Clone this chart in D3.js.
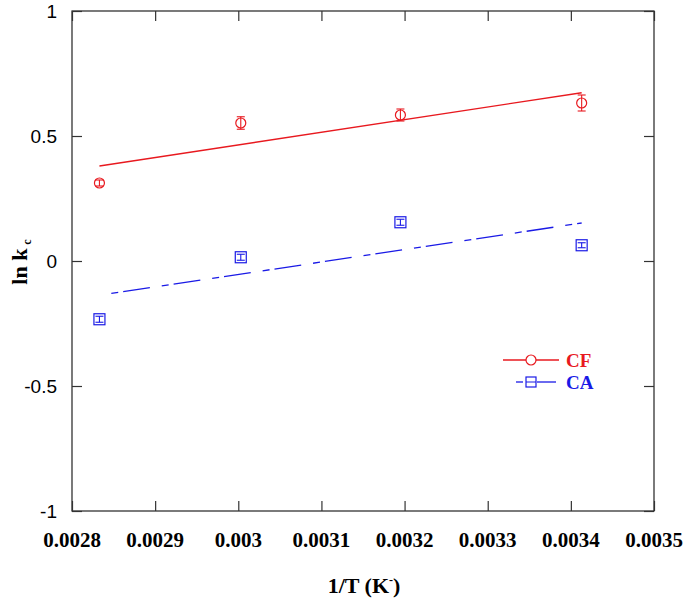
<!DOCTYPE html>
<html>
<head>
<meta charset="utf-8">
<script src="https://cdn.jsdelivr.net/npm/d3@7"></script>
<style>
  body { margin: 0; background: #fff; }
  svg { display: block; }
</style>
</head>
<body>
<script>
// ---- data ----
const invT = [0.002833, 0.003003, 0.003195, 0.003413];
const cfValues = [0.312, 0.552, 0.584, 0.632];
const cfErrors = [0.012, 0.025, 0.024, 0.032];
const caValues = [-0.233, 0.015, 0.155, 0.063];
const caErrors = [0.012, 0.012, 0.012, 0.010];
const cfFit = [[0.002833, 0.380], [0.003413, 0.673]];
const caFit = [[0.002833, -0.137], [0.003413, 0.152]];
const xTicks = [0.0028, 0.0029, 0.003, 0.0031, 0.0032, 0.0033, 0.0034, 0.0035];
const xTickLabels = ["0.0028", "0.0029", "0.003", "0.0031", "0.0032", "0.0033", "0.0034", "0.0035"];
const yTicks = [-1, -0.5, 0, 0.5, 1];
const yTickLabels = ["-1", "-0.5", "0", "0.5", "1"];

(function () {
const W = 685, H = 601;
const pL = 72, pR = 654, pT = 11, pB = 511;
const red = "#e8191f", blue = "#1a1ae6";

const svg = d3.select("body").append("svg").attr("width", W).attr("height", H);
const x = d3.scaleLinear().domain([0.0028, 0.0035]).range([pL, pR]);
const y = d3.scaleLinear().domain([-1, 1]).range([pB, pT]);

// frame
svg.append("rect").attr("x", pL).attr("y", pT).attr("width", pR - pL).attr("height", pB - pT)
  .attr("fill", "none").attr("stroke", "#222").attr("stroke-width", 1.2);

// axes (ticks inward, all four sides)
const tl = 10;
const gB = svg.append("g").attr("transform", `translate(0,${pB})`)
  .call(d3.axisTop(x).tickValues(xTicks).tickSize(tl).tickFormat(""));
const gT = svg.append("g").attr("transform", `translate(0,${pT})`)
  .call(d3.axisBottom(x).tickValues(xTicks).tickSize(tl).tickFormat(""));
const gL = svg.append("g").attr("transform", `translate(${pL},0)`)
  .call(d3.axisRight(y).tickValues(yTicks).tickSize(tl).tickFormat(""));
const gR = svg.append("g").attr("transform", `translate(${pR},0)`)
  .call(d3.axisLeft(y).tickValues(yTicks).tickSize(tl).tickFormat(""));
[gB, gT, gL, gR].forEach(g => {
  g.select(".domain").remove();
  g.selectAll("line").attr("stroke", "#333").attr("stroke-width", 1.2);
});

// tick labels
svg.append("g").selectAll("text").data(xTicks).join("text")
  .attr("x", d => x(d)).attr("y", 547)
  .attr("text-anchor", "middle")
  .attr("font-family", "Liberation Serif, Times New Roman, serif")
  .attr("font-weight", "bold").attr("font-size", 21)
  .text((d, i) => xTickLabels[i]);
svg.append("g").selectAll("text").data(yTicks).join("text")
  .attr("x", 57).attr("y", d => y(d)).attr("dy", "0.35em")
  .attr("text-anchor", "end")
  .attr("font-family", "Liberation Sans, Arial, sans-serif")
  .attr("font-size", 19)
  .text((d, i) => yTickLabels[i]);

// axis titles
const xt = svg.append("text").attr("x", 364).attr("y", 593).attr("text-anchor", "middle")
  .attr("font-family", "Liberation Serif, Times New Roman, serif").attr("font-weight", "bold").attr("font-size", 22);
xt.append("tspan").text("1/T (K");
xt.append("tspan").attr("font-size", 12).attr("dy", -9).text("-");
xt.append("tspan").attr("dy", 9).text(")");

const yt = svg.append("text").attr("transform", `translate(27,262) rotate(-90)`).attr("text-anchor", "middle")
  .attr("font-family", "Liberation Serif, Times New Roman, serif").attr("font-weight", "bold").attr("font-size", 22);
yt.append("tspan").text("ln k");
yt.append("tspan").attr("font-size", 12).attr("dx", 4).attr("dy", 4).text("c");

// fit lines
const line = d3.line().x(d => x(d[0])).y(d => y(d[1]));
svg.append("path").datum(cfFit).attr("d", line).attr("fill", "none")
  .attr("stroke", red).attr("stroke-width", 1.3);
svg.append("path").datum(caFit).attr("d", line).attr("fill", "none")
  .attr("stroke", blue).attr("stroke-width", 1.3)
  .attr("stroke-dasharray", "7,5,27,12").attr("stroke-dashoffset", 39);

// error bars + markers
function errBars(vals, errs, color) {
  const g = svg.append("g").attr("stroke", color).attr("stroke-width", 1.1);
  invT.forEach((t, i) => {
    const cx = x(t), y1 = y(vals[i] + errs[i]), y2 = y(vals[i] - errs[i]);
    g.append("line").attr("x1", cx).attr("x2", cx).attr("y1", y1).attr("y2", y2);
    g.append("line").attr("x1", cx - 4).attr("x2", cx + 4).attr("y1", y1).attr("y2", y1);
    g.append("line").attr("x1", cx - 4).attr("x2", cx + 4).attr("y1", y2).attr("y2", y2);
  });
}
errBars(cfValues, cfErrors, red);
errBars(caValues, caErrors, blue);

svg.append("g").selectAll("circle").data(cfValues).join("circle")
  .attr("cx", (d, i) => x(invT[i])).attr("cy", d => y(d)).attr("r", 5)
  .attr("fill", "none").attr("stroke", red).attr("stroke-width", 1.2);
svg.append("g").selectAll("rect").data(caValues).join("rect")
  .attr("x", (d, i) => x(invT[i]) - 5.5).attr("y", d => y(d) - 5.5)
  .attr("width", 11).attr("height", 11)
  .attr("fill", "none").attr("stroke", blue).attr("stroke-width", 1.2);

// legend
const lg = svg.append("g");
lg.append("line").attr("x1", 503).attr("x2", 559).attr("y1", 360).attr("y2", 360).attr("stroke", red).attr("stroke-width", 1.3);
lg.append("circle").attr("cx", 531).attr("cy", 360).attr("r", 5).attr("fill", "#fff").attr("stroke", red).attr("stroke-width", 1.2);
lg.append("text").attr("x", 566).attr("y", 367).attr("fill", red)
  .attr("font-family", "Liberation Serif, Times New Roman, serif").attr("font-weight", "bold").attr("font-size", 19).text("CF");
lg.append("line").attr("x1", 516).attr("x2", 523).attr("y1", 382).attr("y2", 382).attr("stroke", blue).attr("stroke-width", 1.3);
lg.append("line").attr("x1", 537).attr("x2", 556).attr("y1", 382).attr("y2", 382).attr("stroke", blue).attr("stroke-width", 1.3);
lg.append("rect").attr("x", 526).attr("y", 377).attr("width", 10).attr("height", 10).attr("fill", "#fff").attr("stroke", blue).attr("stroke-width", 1.2);
lg.append("line").attr("x1", 526).attr("x2", 536).attr("y1", 382).attr("y2", 382).attr("stroke", blue).attr("stroke-width", 1);
lg.append("text").attr("x", 566).attr("y", 389).attr("fill", blue)
  .attr("font-family", "Liberation Serif, Times New Roman, serif").attr("font-weight", "bold").attr("font-size", 19).text("CA");
})();
</script>
</body>
</html>
